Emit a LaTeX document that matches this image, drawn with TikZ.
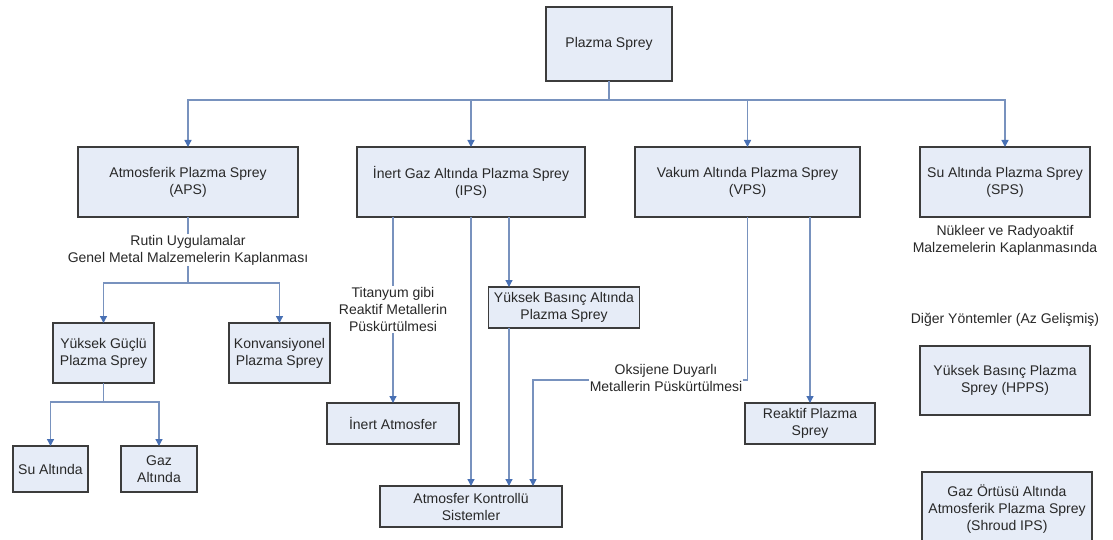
\documentclass[tikz,border=0pt]{standalone}
\usepackage{fontspec}
\setmainfont{Liberation Sans}
\usetikzlibrary{arrows.meta,calc}
\definecolor{boxfill}{RGB}{230,236,247}
\definecolor{boxdraw}{RGB}{60,60,60}
\definecolor{linec}{RGB}{120,146,190}
\definecolor{arrc}{RGB}{72,112,180}
\definecolor{txt}{RGB}{40,40,40}
\begin{document}
\begin{tikzpicture}[x=1pt,y=-1pt,
  box/.style={draw=boxdraw,fill=boxfill,line width=1.6pt,inner sep=2pt,outer sep=0pt,align=center,text=txt,font=\fontsize{14}{17}\selectfont},
  lbl/.style={fill=white,inner sep=1pt,align=center,text=txt,font=\fontsize{14}{17}\selectfont},
  conn/.style={draw=linec,line width=1.3pt},
  arr/.style={conn,-{Triangle[length=7pt,width=7pt,fill=arrc,color=arrc]}}]
\useasboundingbox (0,0) rectangle (1113,540);
\fill[white] (0,0) rectangle (1113,540);

% boxes
\node[box,minimum width=126pt,minimum height=74pt] (root) at (609,44) {Plazma Sprey};
\node[box,minimum width=220pt,minimum height=70pt] (aps) at (188,182) {Atmosferik Plazma Sprey\\(APS)};
\node[box,minimum width=228pt,minimum height=70pt] (ips) at (471,182) {İnert Gaz Altında Plazma Sprey\\(IPS)};
\node[box,minimum width=225pt,minimum height=70pt] (vps) at (747.5,182) {Vakum Altında Plazma Sprey\\(VPS)};
\node[box,minimum width=170pt,minimum height=70pt] (sps) at (1005,182) {Su Altında Plazma Sprey\\(SPS)};

\node[box,minimum width=101pt,minimum height=60pt] (yg) at (103.5,353) {Yüksek Güçlü\\Plazma Sprey};
\node[box,minimum width=101pt,minimum height=60pt] (konv) at (279.5,353) {Konvansiyonel\\Plazma Sprey};
\node[box,minimum width=75pt,minimum height=46pt] (su) at (50.5,469) {Su Altında};
\node[box,minimum width=76pt,minimum height=46pt] (gaz) at (159,469) {Gaz\\Altında};

\node[box,minimum width=132pt,minimum height=41pt] (inert) at (393,423.5) {İnert Atmosfer};
\node[box,minimum width=151pt,minimum height=41pt] (ybas) at (564,307.5) {Yüksek Basınç Altında\\Plazma Sprey};
\node[box,minimum width=182pt,minimum height=41pt] (atmk) at (471,506.5) {Atmosfer Kontrollü\\Sistemler};
\node[box,minimum width=130pt,minimum height=41pt] (reak) at (810,423.5) {Reaktif Plazma\\Sprey};

\node[box,minimum width=170pt,minimum height=69pt] (hpps) at (1005,380.5) {Yüksek Basınç Plazma\\Sprey (HPPS)};
\node[box,minimum width=170pt,minimum height=74pt] (gazort) at (1007,509) {Gaz Örtüsü Altında\\Atmosferik Plazma Sprey\\(Shroud IPS)};

% labels
\node[lbl] (lblA) at (188,250) {Rutin Uygulamalar\\Genel Metal Malzemelerin Kaplanması};
\node[lbl] (lblT) at (393,309.5) {Titanyum gibi\\Reaktif Metallerin\\Püskürtülmesi};
\node[lbl] (lblS) at (1005,240) {Nükleer ve Radyoaktif\\Malzemelerin Kaplanmasında};
\node[lbl] (lblD) at (1005,320) {Diğer Yöntemler (Az Gelişmiş)};

% hubs
\coordinate (h0) at (609,100);
\coordinate (hA) at (188,283);
\coordinate (hY) at (103.5,402);
\coordinate (xb) at (509,0);
\coordinate (okc) at (533,380);

% connectors
\draw[conn] (root.south) -- (h0);
\draw[arr] (h0) -| (aps.north);
\draw[arr] (h0) -| (ips.north);
\draw[arr] (h0) -| (vps.north);
\draw[arr] (h0) -| (sps.north);

\draw[conn] (aps.south) -- (lblA.north);
\draw[conn] (lblA.south) -- (hA);
\draw[arr] (hA) -| (yg.north);
\draw[arr] (hA) -| (konv.north);

\draw[conn] (yg.south) -- (hY);
\draw[arr] (hY) -| (su.north);
\draw[arr] (hY) -| (gaz.north);

\draw[conn] (ips.south -| inert.north) -- (lblT.north);
\draw[arr] (lblT.south) -- (inert.north);
\draw[arr] (ips.south) -- (atmk.north);
\draw[arr] (ips.south -| xb) -- (ybas.north -| xb);
\draw[arr] (ybas.south -| xb) -- (atmk.north -| xb);

\draw[arr] (vps.south) |- (okc) -- (okc |- atmk.north);
\draw[arr] (vps.south -| reak.north) -- (reak.north);

\node[lbl] (lblO) at (666,378) {Oksijene Duyarlı\\Metallerin Püskürtülmesi};
\end{tikzpicture}
\end{document}
